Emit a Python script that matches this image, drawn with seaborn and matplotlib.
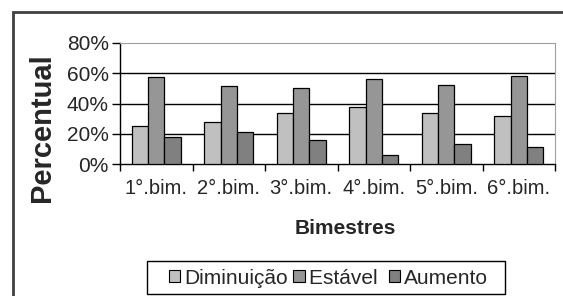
import matplotlib.pyplot as plt
import matplotlib.patches as mpatches
import pandas as pd
import seaborn as sns

bimestres = ["1°.bim.", "2°.bim.", "3°.bim.", "4°.bim.", "5°.bim.", "6°.bim."]
diminuicao = [25, 28, 33.5, 37.5, 33.5, 32]
estavel = [57.5, 51.5, 50, 56, 52, 58]
aumento = [18, 21, 16, 6, 13, 11]
series = ["Diminuição", "Estável", "Aumento"]
cores = ["#c0c0c0", "#969696", "#808080"]
yticks = [0, 20, 40, 60, 80]

df = pd.DataFrame({"Bimestre": bimestres * 3,
                   "Serie": [s for s in series for _ in bimestres],
                   "Valor": diminuicao + estavel + aumento})

sns.set_style("white")
plt.rcParams["font.family"] = ["Liberation Sans", "DejaVu Sans"]

W, H = 563, 296
fig = plt.figure(figsize=(W / 100, H / 100), dpi=100)
ax = fig.add_axes([120 / W, 1 - 164 / H, 435 / W, 121 / H])

sns.barplot(data=df, x="Bimestre", y="Valor", hue="Serie", palette=cores,
            width=0.68, edgecolor="black", linewidth=0.9, saturation=1,
            ax=ax, legend=False, zorder=3)

ax.set_ylim(0, 80)
ax.set_xlim(-0.5, 5.5)
ax.set_yticks(yticks)
ax.set_yticklabels([f"{v}%" for v in yticks], fontsize=15)
ax.set_xticks(range(len(bimestres)))
ax.set_xticklabels(bimestres, fontsize=14.5)
ax.tick_params(axis="x", length=0, pad=11)
ax.tick_params(axis="y", length=6, width=1, color="black", direction="out", pad=2, left=True)
# separadores entre categorias
ax.set_xticks([i + 0.5 for i in range(-1, 6)], minor=True)
ax.tick_params(axis="x", which="minor", length=5, width=1, color="black", direction="out", bottom=True)

for v in [20, 40, 60]:
    ax.axhline(v, color="black", linewidth=1, zorder=1)

for s in ["left", "bottom"]:
    ax.spines[s].set_color("black")
    ax.spines[s].set_linewidth(1)
ax.spines["top"].set_color("#a0a0a0")
ax.spines["right"].set_color("#a0a0a0")

ax.set_xlabel("")
ax.set_ylabel("")
fig.text(42 / W, 1 - 128 / H, "Percentual", rotation=90, fontsize=21, fontweight="bold",
         ha="center", va="center")
fig.text(345 / W, 1 - 228 / H, "Bimestres", fontsize=15, fontweight="bold", ha="center", va="center")

handles = [mpatches.Patch(facecolor=c, edgecolor="black", linewidth=0.8) for c in cores]
labels = ["Diminuição", "Estável ", "Aumento"]
leg = fig.legend(handles, labels, loc="center left", bbox_to_anchor=(169 / W, 1 - 278 / H), ncol=3,
                 fontsize=15, frameon=False, handlelength=0.55, handleheight=0.55,
                 handletextpad=0.2, columnspacing=0.25, borderpad=0, borderaxespad=0)

legbox = mpatches.Rectangle((147 / W, 1 - 294 / H), 358 / W, 33 / H, transform=fig.transFigure,
                            fill=False, edgecolor="black", linewidth=1, clip_on=False)
fig.patches.append(legbox)

frame = mpatches.Rectangle((13 / W, -0.05), 1.2, 1 - 12 / H + 0.05, transform=fig.transFigure,
                           fill=False, edgecolor="#404040", linewidth=2, clip_on=False)
fig.patches.append(frame)

plt.savefig("out.png", dpi=100)
